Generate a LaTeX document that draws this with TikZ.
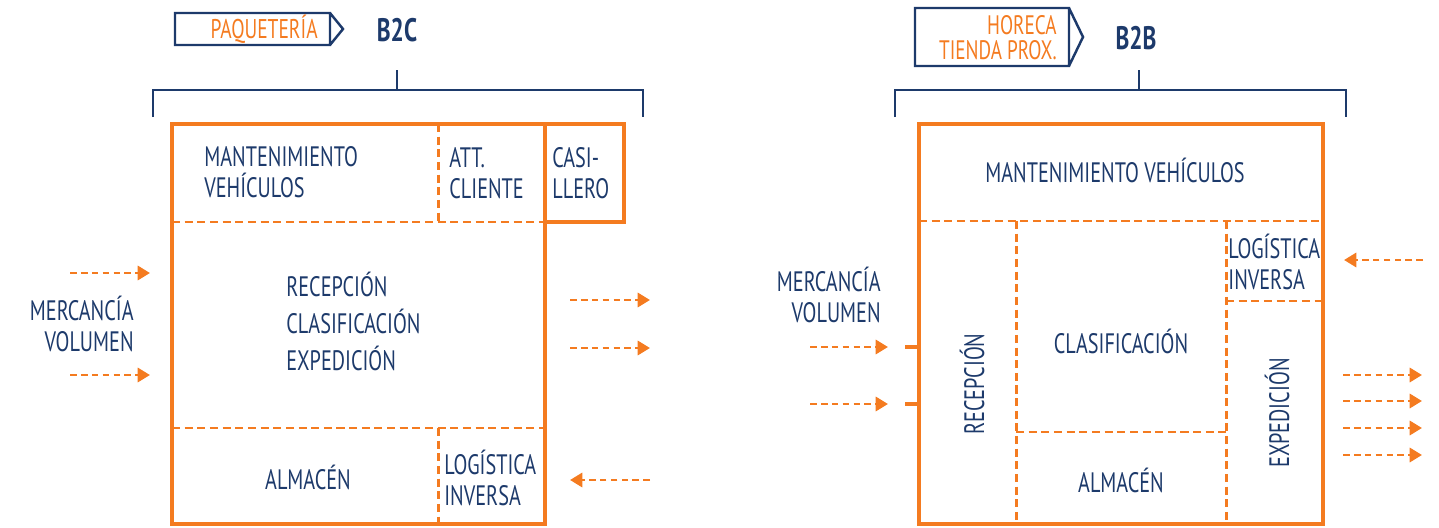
\documentclass[tikz,border=0pt]{standalone}
\usepackage{fontspec}
\setmainfont[FakeStretch=0.72]{PT Sans}
\usetikzlibrary{arrows.meta, positioning}
\definecolor{naranja}{HTML}{F47B20}
\definecolor{marino}{HTML}{1D3A6B}

\tikzset{
  muro/.style = {draw=naranja, line width=2pt},
  tabique/.style = {draw=naranja, line width=1.7pt, dash pattern=on 4.6pt off 2.6pt},
  flujo/.style = {draw=naranja, line width=1.7pt, dash pattern=on 3.8pt off 2.4pt,
                  -{Triangle[length=7pt, width=8pt]}},
  llave/.style = {draw=marino, line width=1.4pt},
  zona/.style = {text=marino, inner sep=0pt, font=\fontsize{16}{17.6}\selectfont},
  canal/.style = {text=naranja, inner sep=0pt, align=right, anchor=east},
  modelo/.style = {text=marino, inner sep=0pt, font=\fontsize{18.5}{20}\selectfont\bfseries}
}

\begin{document}
\begin{tikzpicture}[x=0.02cm, y=-0.02cm]
  \useasboundingbox (0,0) rectangle (1439,527);

  % B2C
  \draw[llave] (175,13) rectangle (330,45) (330,13) -- (343,29) -- (330,45);
  \node[canal, font=\fontsize{15.4}{15}\selectfont] (paq) at (318,29) {PAQUETERÍA};
  \node[modelo] (b2c) at (397,30) {B2C};
  \draw[llave] (153,117) |- (643,90) -- (643,117) (397,90) -- (397,70);

  \draw[muro] (172,124) rectangle (545,524);
  \draw[muro] (545,124) rectangle (624,222);
  \draw[tabique] (172,222) -- (545,222) (438,124) -- (438,222);
  \draw[tabique] (172,428) -- (545,428) (438,428) -- (438,524);

  \node[zona, align=left, anchor=west] (mant1) at (204,172.5) {MANTENIMIENTO\\VEHÍCULOS};
  \node[zona, align=left, anchor=west] (att) at (449,173.5) {ATT.\\CLIENTE};
  \node[zona, align=left, anchor=west] (cas) at (552,173.5) {CASI-\\LLERO};
  \node[zona, align=left, anchor=west, font=\fontsize{16}{21}\selectfont] (rce) at (286,321.5)
    {RECEPCIÓN\\CLASIFICACIÓN\\EXPEDICIÓN};
  \node[zona] (alm1) at (308,477.5) {ALMACÉN};
  \node[zona, align=left, anchor=west] (inv1) at (444,477.5) {LOGÍSTICA\\INVERSA};
  \node[zona, align=right, anchor=east] (mer1) at (134,324) {MERCANCÍA\\VOLUMEN};

  \coordinate (i1) at (70,273);  \coordinate (i1f) at (150,273);
  \coordinate (i2) at (70,375);  \coordinate (i2f) at (150,375);
  \coordinate (o1) at (570,300); \coordinate (o1f) at (650,300);
  \coordinate (o2) at (570,348); \coordinate (o2f) at (650,348);
  \coordinate (r1) at (650,480); \coordinate (r1f) at (570,480);
  \path (i1) edge[flujo] (i1f) (i2) edge[flujo] (i2f)
        (o1) edge[flujo] (o1f) (o2) edge[flujo] (o2f)
        (r1) edge[flujo] (r1f);

  % B2B
  \draw[llave] (915,8) rectangle (1069,66) (1069,8) -- (1083,37) -- (1069,66);
  \node[canal, font=\fontsize{15.2}{14.2}\selectfont] (hor) at (1057,37.5) {HORECA\\TIENDA PROX.};
  \node[modelo] (b2b) at (1136,38) {B2B};
  \draw[llave] (895,117) |- (1346,90) -- (1346,117) (1139,90) -- (1139,70);

  \draw[muro] (919,124) rectangle (1323,524);
  \draw[tabique] (919,221) -- (1323,221) (1016,221) -- (1016,524) (1226,221) -- (1226,524);
  \draw[tabique] (1016,432) -- (1226,432) (1226,301) -- (1323,301);
  \draw[muro] (905,347) -- (919,347) (905,404) -- (919,404);

  \node[zona] (mant2) at (1115,170) {MANTENIMIENTO VEHÍCULOS};
  \node[zona, rotate=90] (rec) at (972,384) {RECEPCIÓN};
  \node[zona] (cla) at (1121,341) {CLASIFICACIÓN};
  \node[zona] (alm2) at (1121,480) {ALMACÉN};
  \node[zona, align=left, anchor=west] (inv2) at (1228,262) {LOGÍSTICA\\INVERSA};
  \node[zona, rotate=90] (exp) at (1277,413) {EXPEDICIÓN};
  \node[zona, align=right, anchor=east] (mer2) at (881,295) {MERCANCÍA\\VOLUMEN};

  \coordinate (j1) at (810,347); \coordinate (j1f) at (888,347);
  \coordinate (j2) at (810,404); \coordinate (j2f) at (888,404);
  \coordinate (s1) at (1423,260); \coordinate (s1f) at (1344,260);
  \path (j1) edge[flujo] (j1f) (j2) edge[flujo] (j2f) (s1) edge[flujo] (s1f);
  \foreach \y [count=\k] in {375,401,428,455} {
    \coordinate (d\k) at (1343,\y); \coordinate (d\k f) at (1422,\y);
    \draw[flujo] (d\k) -- (d\k f);
  }
\end{tikzpicture}
\end{document}
